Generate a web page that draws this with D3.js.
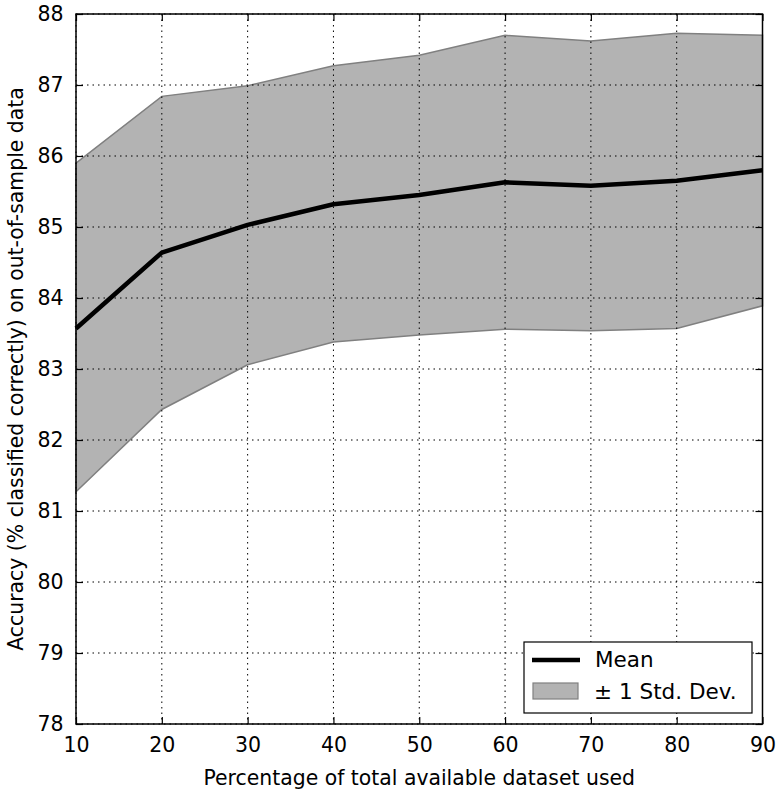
<!DOCTYPE html>
<html><head><meta charset="utf-8">
<script src="https://cdn.jsdelivr.net/npm/d3@7"></script>
<style>body{margin:0;background:#fff}text{font-family:"DejaVu Sans",sans-serif}</style>
</head><body><svg id="c" width="780" height="793"></svg>
<script>
const xs = [10,20,30,40,50,60,70,80,90];
const meanVals = [83.57,84.64,85.03,85.32,85.45,85.63,85.58,85.65,85.80];
const upperVals = [85.90,86.84,86.99,87.27,87.42,87.70,87.62,87.73,87.70];
const lowerVals = [81.27,82.43,83.06,83.38,83.48,83.56,83.54,83.57,83.89];
const xTicks = [10,20,30,40,50,60,70,80,90];
const yTicks = [78,79,80,81,82,83,84,85,86,87,88];

const svg = d3.select("#c");
const L=76,R=762.5,T=14,B=724;
const x = d3.scaleLinear().domain([10,90]).range([L,R]);
const y = d3.scaleLinear().domain([78,88]).range([B,T]);
const data = xs.map((v,i)=>({x:v,m:meanVals[i],u:upperVals[i],l:lowerVals[i]}));

// band
svg.append("path").datum(data)
  .attr("d", d3.area().x(d=>x(d.x)).y0(d=>y(d.l)).y1(d=>y(d.u)))
  .attr("fill","#b3b3b3").attr("stroke","#808080").attr("stroke-width",1.5);

// grid
const g = svg.append("g").attr("stroke","#000").attr("stroke-width",1).attr("stroke-dasharray","1.5,4");
xTicks.forEach(t=>g.append("line").attr("x1",x(t)).attr("x2",x(t)).attr("y1",T).attr("y2",B));
yTicks.forEach(t=>g.append("line").attr("y1",y(t)).attr("y2",y(t)).attr("x1",L).attr("x2",R));

// mean line
svg.append("path").datum(data)
  .attr("d", d3.line().x(d=>x(d.x)).y(d=>y(d.m)))
  .attr("fill","none").attr("stroke","#000").attr("stroke-width",4.5).attr("stroke-linejoin","round");

// axes with inward ticks
const ax = d3.axisBottom(x).tickValues(xTicks).tickSizeInner(-7).tickSizeOuter(0).tickPadding(13);
const ay = d3.axisLeft(y).tickValues(yTicks).tickSizeInner(-7).tickSizeOuter(0).tickPadding(12.5);
const gx = svg.append("g").attr("transform",`translate(0,${B})`).call(ax);
const gy = svg.append("g").attr("transform",`translate(${L},0)`).call(ay);
const gxt = svg.append("g").attr("transform",`translate(0,${T})`).call(d3.axisTop(x).tickValues(xTicks).tickSizeInner(-7).tickSizeOuter(0).tickFormat(""));
const gyr = svg.append("g").attr("transform",`translate(${R},0)`).call(d3.axisRight(y).tickValues(yTicks).tickSizeInner(-7).tickSizeOuter(0).tickFormat(""));
[gx,gy,gxt,gyr].forEach(a=>{a.select(".domain").remove();a.selectAll("line").attr("stroke","#000").attr("stroke-width",1.2);a.selectAll("text").attr("font-size",20.5).attr("fill","#000").style("font-family","DejaVu Sans");});

// frame
svg.append("rect").attr("x",L).attr("y",T).attr("width",R-L).attr("height",B-T).attr("fill","none").attr("stroke","#000").attr("stroke-width",1.5);

// labels
svg.append("text").attr("x",(L+R)/2).attr("y",785).attr("text-anchor","middle").attr("font-size",20.4).text("Percentage of total available dataset used");
svg.append("text").attr("transform",`translate(23,${(T+B)/2}) rotate(-90)`).attr("text-anchor","middle").attr("font-size",20.4).text("Accuracy (% classified correctly) on out-of-sample data");

// legend
const lg = svg.append("g");
lg.append("rect").attr("x",524).attr("y",642).attr("width",228).attr("height",71).attr("fill","#fff").attr("stroke","#000").attr("stroke-width",1.2);
lg.append("line").attr("x1",532).attr("x2",580).attr("y1",660).attr("y2",660).attr("stroke","#000").attr("stroke-width",4.5);
lg.append("rect").attr("x",533).attr("y",683).attr("width",45).attr("height",16).attr("fill","#b3b3b3").attr("stroke","#808080").attr("stroke-width",1.2);
lg.append("text").attr("x",595).attr("y",667).attr("font-size",21.5).text("Mean");
const st = lg.append("text").attr("y",699).attr("font-size",21.5);
st.append("tspan").attr("x",594).text("\u00b1");
st.append("tspan").attr("x",619).text("1 Std. Dev.");
</script></body></html>
